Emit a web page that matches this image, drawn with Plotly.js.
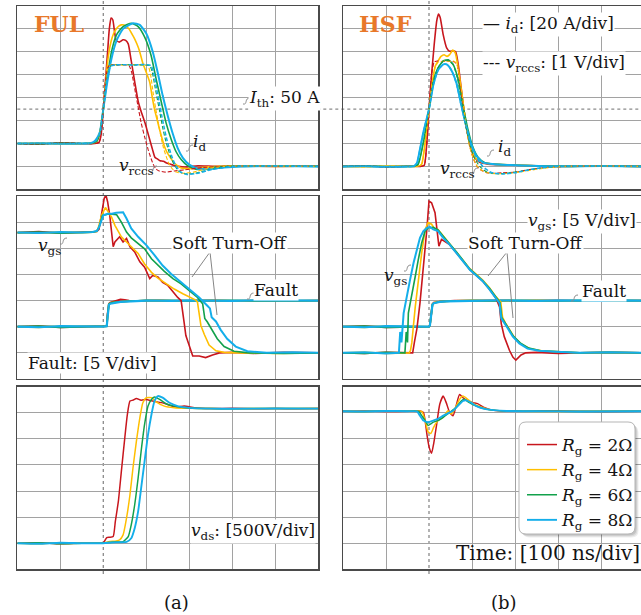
<!DOCTYPE html>
<html>
<head>
<meta charset="utf-8">
<script src="https://cdn.plot.ly/plotly-3.0.1.min.js"></script>
<style>
html, body { margin: 0; padding: 0; background: #fff; }
#chart { width: 641px; height: 615px; }
</style>
</head>
<body>
<div id="chart"></div>
<script>
// ---- gate resistances and trace colours ----
const rgLabels = ['<i>R</i><sub>g</sub> = 2Ω', '<i>R</i><sub>g</sub> = 4Ω', '<i>R</i><sub>g</sub> = 6Ω', '<i>R</i><sub>g</sub> = 8Ω'];
const rgColors = ['#C8161D', '#FFBF00', '#12A14B', '#14AEEA'];
const I_TH = 50; // A, short-circuit detection threshold

// ---- FUL: drain current id [A] (time in ns) ----
const fulIdT2 = [-200,-150,-100,-50,-20,-10,-5,0,5,10,14,18,22,26,30,37,46,52,58,65,73,81,88,97,103,109,115,120,126,132,140,147,155,163,175,190,220,260,320,400,500];
const fulId2  = [20,19.5,20.5,19.8,20,21,28,50,75,100,120,129.5,128,118,110,108.5,110.5,110,107,92,74,57,48,38,30,22,14,8,6.5,5,4.5,3,2,1,0,-0.5,0.5,0,0.5,0,0.3];
const fulIdT4 = [-200,-150,-100,-50,-25,-15,-8,0,6,12,18,24,30,36,42,48,54,60,66,72,78,84,92,100,108,114,119,125,131,137,142,148,154,160,165,173,181,195,215,240,270,330,400,500];
const fulId4  = [20,20.3,19.7,20,20.4,22,30,50,76,97,109,116,120,122.5,123.5,123.5,122,120,116,112,107,101,90,82,73.5,60,50,41,32,24,17.6,12.5,8.8,5.5,2.9,0.5,-1.5,-2,-1.5,-0.5,0,0.4,0,0.3];
const fulIdT6 = [-200,-150,-100,-50,-25,-15,-8,0,8,19,31,46,65,81,96,111,123,135,146,158,169,181,196,215,238,262,300,400,500];
const fulId6  = [20,19.8,20.2,20,20.3,22,29,50,73.5,100,115,122,125,122,113,97,76,56,38,23.5,13,6,0.6,-2.4,-2.4,-0.6,0,0.3,0];
const fulIdT8 = [-200,-150,-100,-50,-28,-18,-8,0,8,19,31,46,69,85,100,115,127,138,150,162,173,185,200,220,250,280,320,400,500];
const fulId8  = [20,20.2,19.8,20,20.4,23,30,50,70.6,94,110,120,125,123.5,116,100,81,62,44,28,16,7.4,1.5,-2,-2.3,-1,0,0.3,0];

// ---- FUL: sense voltage vrccs [V] ----
const fulVrT2 = [-200,-150,-100,-50,-20,-10,-5,0,5,10,15,20,30,40,50,60,66,72,80,88,96,104,110,116,122,130,145,165,190,230,280,350,420,500];
const fulVr2  = [1,0.97,1.03,1,1,1.05,1.4,2.5,3.7,4.3,4.43,4.45,4.42,4.44,4.43,4.4,4.1,3.5,2.7,1.9,1.3,0.75,0.4,0.1,-0.1,-0.2,-0.25,-0.2,-0.15,-0.05,0,0.02,0,0];
const fulVrT4 = [-200,-150,-100,-50,-25,-15,-8,0,6,12,18,30,50,70,90,104,110,116,122,128,134,140,146,152,160,170,185,210,240,280,350,500];
const fulVr4  = [1,1.02,0.98,1,1.02,1.1,1.5,2.5,3.7,4.3,4.43,4.44,4.42,4.45,4.43,4.4,4.0,3.2,2.5,1.9,1.3,0.8,0.45,0.15,-0.1,-0.25,-0.3,-0.25,-0.1,0,0.02,0];
const fulVrT6 = [-200,-150,-100,-50,-25,-15,-8,0,6,12,18,30,50,70,90,108,114,120,126,132,138,144,150,156,164,175,190,215,245,290,350,500];
const fulVr6  = [1,0.98,1.02,1,1.02,1.1,1.45,2.5,3.6,4.2,4.4,4.43,4.45,4.42,4.43,4.4,4.1,3.5,2.9,2.3,1.7,1.2,0.8,0.45,0.1,-0.2,-0.32,-0.3,-0.15,0,0.02,0];
const fulVrT8 = [-200,-150,-100,-50,-28,-18,-8,0,6,12,18,30,50,70,90,111,118,124,130,136,142,148,154,160,168,180,195,220,250,300,360,500];
const fulVr8  = [1,1.02,0.98,1,1.02,1.1,1.45,2.5,3.5,4.15,4.38,4.43,4.44,4.42,4.45,4.4,4.0,3.4,2.8,2.2,1.65,1.15,0.75,0.4,0.05,-0.25,-0.35,-0.3,-0.15,0,0.02,0];

// ---- HSF: drain current id [A] ----
const hsfIdT2 = [-200,-150,-100,-50,-20,-11,-5,0,6,12,18,22,26,33,41,48,56,62,68,75,83,91,98,106,118,137,160,200,250,300,400,493];
const hsfId2  = [0,0.4,-0.3,0.2,0,1,21,50,80,106,127,133,130,115,103.5,100.5,101,100,89,68,44.7,27,15,8,3.5,2,1.5,1,0.5,0,0.3,0];
const hsfIdT4 = [-200,-150,-100,-50,-25,-17,-9,0,8,14,21,28,35,42,48,55,61,67,75,83,91,98,110,129,160,200,250,300,400,493];
const hsfId4  = [0,-0.3,0.3,0,0.2,2,21,50,74,87,92,96,97.5,96,97.5,101.5,99,88,67,44.7,27,15,6.5,3,1.8,1.2,0.5,0,0.3,0];
const hsfIdT6 = [-200,-150,-100,-50,-32,-25,-13,0,10,21,33,45,56,68,79,91,102,114,129,150,180,220,270,330,400,493];
const hsfId6  = [0,0.3,-0.2,0,0.1,2,21,50,74,86,92,93,89,75.6,53.5,31.5,16.8,8,3.5,2,1.3,0.8,0.3,0,0.3,0];
const hsfIdT8 = [-200,-150,-100,-50,-35,-28,-21,-13,0,10,21,33,41,52,64,75,87,98,110,125,152,190,240,300,400,493];
const hsfId8  = [0,0.2,-0.3,0,0.2,3,15,30,50,71,84,89,89,84,72.6,53.5,34.4,19.7,9.4,3.5,1.8,1.2,0.5,0,0.3,0];

// ---- HSF: sense voltage vrccs [V] ----
const hsfVrT2 = [-200,-150,-100,-50,-20,-11,-5,0,6,12,20,30,40,50,60,66,72,80,88,96,104,112,120,135,150,170,200,230,270,320,400,493];
const hsfVr2  = [0,0.02,-0.02,0,0,0.05,1,2.5,4.0,4.55,4.6,4.58,4.6,4.59,4.55,4.4,3.6,2.5,1.5,0.8,0.3,0,-0.15,-0.28,-0.3,-0.28,-0.25,-0.15,-0.05,0,0.02,0];
const hsfVrT4 = [-200,-150,-100,-50,-25,-17,-9,0,8,14,21,30,40,50,57,64,70,78,86,94,102,112,125,140,160,190,220,260,310,400,493];
const hsfVr4  = [0,-0.02,0.02,0,0.01,0.1,1.05,2.5,3.7,4.3,4.55,4.58,4.6,4.58,4.6,4.5,4.0,3.0,1.8,0.9,0.4,0,-0.2,-0.3,-0.32,-0.3,-0.22,-0.1,0,0.02,0];
const hsfVrT6 = [-200,-150,-100,-50,-32,-25,-13,0,10,21,33,45,56,66,76,86,96,106,118,135,155,180,210,250,300,400,493];
const hsfVr6  = [0,0.02,-0.01,0,0.01,0.1,1.05,2.5,3.7,4.3,4.6,4.62,4.45,3.85,2.8,1.7,0.9,0.35,0,-0.25,-0.32,-0.3,-0.22,-0.1,0,0.02,0];
const hsfVrT8 = [-200,-150,-100,-50,-35,-28,-21,-13,0,10,21,33,41,52,64,75,87,98,110,125,145,170,200,240,290,400,493];
const hsfVr8  = [0,0.01,-0.02,0,0.01,0.15,0.75,1.5,2.5,3.55,4.2,4.45,4.45,4.2,3.6,2.65,1.7,0.9,0.4,0,-0.27,-0.33,-0.28,-0.12,0,0.02,0];

// ---- FUL: gate-source voltage vgs [V] ----
const fulVgsT2 = [-200,-150,-100,-50,-25,-15,-10,-4,2,6,10,15,19,23,27,31,38,46,54,62,73,85,96,108,115,127,138,150,162,173,181,185,188,192,200,208,223,238,254,270,300,350,420,500];
const fulVgs2  = [18,18.2,17.9,18,18.1,18.2,18.6,21.3,24.5,25.2,23.9,21.3,17.5,15.3,16.2,16.5,17.2,16.2,16.9,15.3,14.3,12.4,11.4,9.2,9.8,9.5,8.5,7.9,6.6,5.6,5.0,3,0.8,-1.7,-3.7,-5.6,-5.6,-5.9,-5.4,-5,-4.9,-5.1,-4.9,-5];
const fulVgsT4 = [-200,-150,-100,-50,-25,-15,-12,-4,5,12,19,27,35,42,54,65,81,96,112,127,146,165,185,204,215,219,223,227,235,246,262,281,320,400,500];
const fulVgs4  = [18,17.9,18.1,18,18.1,18.2,18.8,21.3,22.8,22,21,19.4,18.1,17.2,16.2,15.3,14,12,10.4,9.3,8.2,7.2,6.3,5.6,5.1,4.7,2.1,0.2,-1.5,-3.5,-4.6,-4.9,-5,-5.1,-5];
const fulVgsT6 = [-200,-150,-100,-50,-25,-15,-10,-2,10,20,31,42,54,65,81,96,112,127,142,162,181,200,219,231,236,242,254,265,281,304,340,420,500];
const fulVgs6  = [18,18.1,17.9,18,18.1,18.3,19,21.3,21.5,21.5,21.4,20,18.1,17,15.9,14.9,13,11.7,10.6,9.2,8.2,6.9,5.6,4.4,1.6,0.9,-0.7,-2.3,-3.8,-4.7,-5,-5.1,-5];
const fulVgsT8 = [-200,-150,-100,-50,-25,-15,-10,0,10,20,30,40,46,54,65,81,100,119,138,158,181,200,223,242,248,252,262,273,288,308,335,380,440,500];
const fulVgs8  = [18,17.9,18.1,18,18.1,18.3,19,21.3,21.6,21.6,21.8,21.8,21.9,20.7,18.8,17.2,15.6,13.7,11.7,10.1,8.5,7.2,5.6,4.0,3.5,1.8,1.0,-0.6,-2.3,-3.8,-4.7,-5,-4.9,-5];

// ---- FUL: fault flag [V] ----
const fulFaultT = [-200,-150,-100,-50,0,8,10,13,16,20,30,40,50,60,80,100,130,160,200,250,300,350,400,450,500];
const fulFault2 = [0,0.1,-0.1,0,0,0.1,2.5,4.4,4.6,4.7,4.9,5.2,5.15,5.0,4.95,5.0,5.05,4.95,5.0,5.05,4.95,5.0,5.05,4.95,5.0];
const fulFault4 = [0,-0.1,0.1,0,0,0.1,2.4,4.3,4.5,4.6,4.7,4.8,4.85,4.9,4.95,5.0,5.05,4.95,5.0,5.05,4.95,5.0,5.05,4.95,5.0];
const fulFault6 = [0,0.1,-0.1,0,0,0.1,2.3,4.3,4.5,4.6,4.7,4.8,4.85,4.9,4.95,5.05,5.0,5.05,4.95,5.0,5.05,4.95,5.0,5.05,5.0];
const fulFault8 = [0,-0.1,0.1,0,0,0.1,2.3,4.2,4.4,4.5,4.6,4.75,4.8,4.9,4.95,5.0,5.0,4.95,5.05,5.0,4.95,5.05,5.0,4.95,5.0];

// ---- HSF: gate-source voltage vgs [V] ----
const hsfVgsT2 = [-200,-150,-100,-50,-38,-34,-28,-21,-13,-5,0,6,14,19,23,29,37,48,64,79,95,110,125,141,156,164,168,175,187,195,202,214,225,250,300,350,420,493];
const hsfVgs2  = [-5,-5.1,-4.9,-5,-5,-3,-0.3,4.5,10.9,18.6,24,23.7,21.8,18.6,15.4,16.7,16.3,15.7,14.1,12.5,10.9,9.8,8.7,7.1,5.4,3.8,0.6,-1.9,-4.5,-5.8,-6.4,-5.4,-5,-4.9,-5.1,-5,-4.9,-5];
const hsfVgsT4 = [-200,-150,-100,-50,-46,-43,-40,-32,-25,-17,-9,-2,6,14,21,33,48,64,79,95,110,125,141,156,167,171,178,186,198,214,235,262,300,350,420,493];
const hsfVgs4  = [-5,-4.9,-5.1,-5,-5,-4.5,-3.1,3.8,9,14.1,18.6,19.9,19.6,18.6,18.6,17.4,16,14.4,12.8,11.1,10,8.9,7.4,5.7,4.7,1.8,0.7,-0.4,-2,-3.3,-4.2,-4.6,-4.8,-5,-4.9,-5];
const hsfVgsT6 = [-200,-150,-100,-60,-56,-53,-50,-48,-40,-32,-25,-17,-9,-2,10,21,33,48,64,79,95,110,125,141,156,165,169,176,184,196,212,232,260,300,350,420,493];
const hsfVgs6  = [-5,-5.1,-4.9,-5,-5,-1,-3,2.6,5.8,9.6,12.8,16,18.3,18.9,19,18.5,17.3,15.9,14.3,12.7,11,9.9,8.8,7.3,5.6,4.6,1.8,0.8,-0.2,-1.8,-3.1,-4.1,-4.6,-4.8,-5,-4.9,-5];
const hsfVgsT8 = [-200,-150,-100,-80,-70,-67,-64,-59,-52,-44,-36,-28,-21,-13,-5,2,10,21,33,48,64,79,95,110,125,141,156,164,168,175,183,195,210,229,256,295,350,420,493];
const hsfVgs8  = [-5,-4.9,-5.1,-5,-5,-1,-3,2.6,5.8,9,12.2,14.7,17,18.3,18.9,19.1,18.6,18.3,17,15.7,14.1,12.5,10.9,9.8,8.7,7.1,5.4,4.5,1.6,0.6,-0.3,-1.9,-3.2,-4.2,-4.6,-4.8,-5,-4.9,-5];

// ---- HSF: fault flag [V] ----
const hsfFaultT = [-200,-150,-100,-50,0,2,5,8,11,15,25,40,60,100,150,200,250,300,350,400,450,493];
const hsfFault2 = [0,0.1,-0.1,0,0,0.2,2.5,4.3,4.6,4.7,4.8,4.9,5.0,5.0,5.05,4.95,5.0,5.05,4.95,5.0,5.05,5.0];
const hsfFault4 = [0,-0.1,0.1,0,0,0.2,2.4,4.3,4.5,4.7,4.8,4.9,4.95,5.05,5.0,4.95,5.05,5.0,4.95,5.05,5.0,5.0];
const hsfFault6 = [0,0.1,-0.1,0,0,0.2,2.4,4.2,4.5,4.6,4.8,4.85,4.95,5.0,4.95,5.05,5.0,4.95,5.05,5.0,4.95,5.0];
const hsfFault8 = [0,-0.1,0.1,0,0,0.2,2.3,4.2,4.5,4.6,4.75,4.85,4.9,5.0,5.05,5.0,4.95,5.05,5.0,4.95,5.05,5.0];

// ---- FUL: drain-source voltage vds [V] ----
const fulVdsT2 = [-200,-150,-100,-50,0,8,15,23,28,35,42,50,56,62,69,77,88,100,112,123,138,154,169,188,212,250,300,350,400,450,500];
const fulVds2  = [0,10,-10,0,10,109,115,128,417,801,1378,2019,2468,2724,2743,2776,2740,2755,2730,2711,2690,2647,2609,2630,2596,2580,2585,2575,2580,2578,2580];
const fulVdsT4 = [-200,-150,-100,-50,0,12,30,38,46,54,62,69,77,85,92,100,112,123,142,165,200,250,300,400,500];
const fulVds4  = [0,-10,10,0,0,30,45,64,160,481,929,1442,1955,2404,2692,2788,2790,2711,2628,2596,2585,2580,2578,2582,2580];
const fulVdsT6 = [-200,-150,-100,-50,0,20,46,58,65,73,81,88,96,104,112,119,131,146,165,200,250,300,400,500];
const fulVds6  = [0,10,-10,0,0,20,30,128,353,737,1250,1763,2276,2628,2756,2801,2756,2673,2628,2590,2580,2578,2582,2580];
const fulVdsT8 = [-200,-150,-100,-50,0,20,54,65,73,81,88,96,104,112,119,127,138,154,173,200,250,300,400,500];
const fulVds8  = [0,-10,10,0,0,15,25,96,288,609,1058,1570,2083,2468,2724,2820,2790,2692,2628,2595,2580,2578,2582,2580];

// ---- HSF: drain-source voltage vds [V] ----
const hsfVdsT2 = [-200,-150,-100,-50,-21,-13,-9,-4,1,6,11,18,25,33,40,48,56,63,71,79,88,102,113,128,147,170,220,300,400,493];
const hsfVds2  = [2530,2535,2525,2530,2535,2508,2351,2039,1820,1726,1914,2289,2664,2820,2695,2508,2445,2633,2851,2789,2739,2695,2676,2601,2551,2536,2530,2535,2525,2530];
const hsfVdsT4 = [-200,-150,-100,-50,-17,-9,-2,4,11,21,33,44,52,60,71,79,90,105,124,147,200,300,400,493];
const hsfVds4  = [2530,2525,2535,2530,2527,2351,2133,2101,2226,2351,2414,2539,2476,2570,2758,2820,2758,2664,2601,2551,2530,2525,2535,2530];
const hsfVdsT6 = [-200,-150,-100,-50,-24,-17,-9,-2,10,21,33,48,63,75,82,94,109,132,180,250,350,493];
const hsfVds6  = [2530,2525,2535,2530,2527,2445,2351,2258,2320,2351,2414,2508,2601,2726,2758,2695,2633,2570,2535,2530,2525,2530];
const hsfVdsT8 = [-200,-150,-100,-50,-28,-21,-13,-2,10,21,33,44,56,67,79,86,98,109,132,180,250,350,493];
const hsfVds8  = [2530,2525,2535,2530,2527,2445,2351,2320,2351,2383,2445,2489,2539,2633,2726,2739,2695,2633,2570,2535,2530,2525,2530];

// ---- figure geometry (pixels) ----
const W = 641, H = 615;
const px = x => x / W;
const py = y => 1 - y / H;
const SERIF = "'DejaVu Serif', 'Liberation Serif', serif";

const traces = [];
function addGroup(xa, ya, pairs, style) {
  pairs.forEach(([t, v], i) => {
    traces.push({
      type: 'scatter', mode: 'lines', x: t, y: v, xaxis: xa, yaxis: ya,
      name: rgLabels[i], showlegend: !!style.legend, hoverinfo: 'skip',
      line: {
        color: rgColors[i],
        width: i === 3 ? style.width + 0.4 : style.width,
        dash: style.dash || 'solid',
        shape: style.shape || 'linear',
        smoothing: 0.5
      }
    });
  });
}

// top row: currents and sense voltages
addGroup('x', 'y7', [[fulVrT2, fulVr2], [fulVrT4, fulVr4], [fulVrT6, fulVr6], [fulVrT8, fulVr8]], {width: 1.1, dash: '4px,2px', shape: 'spline'});
addGroup('x', 'y', [[fulIdT2, fulId2], [fulIdT4, fulId4], [fulIdT6, fulId6], [fulIdT8, fulId8]], {width: 1.6, shape: 'spline'});
addGroup('x2', 'y8', [[hsfVrT2, hsfVr2], [hsfVrT4, hsfVr4], [hsfVrT6, hsfVr6], [hsfVrT8, hsfVr8]], {width: 1.1, dash: '4px,2px', shape: 'spline'});
addGroup('x2', 'y2', [[hsfIdT2, hsfId2], [hsfIdT4, hsfId4], [hsfIdT6, hsfId6], [hsfIdT8, hsfId8]], {width: 1.6, shape: 'spline'});
// middle row: gate voltage and fault flag
addGroup('x3', 'y3', [[fulFaultT, fulFault2], [fulFaultT, fulFault4], [fulFaultT, fulFault6], [fulFaultT, fulFault8]], {width: 1.8});
addGroup('x3', 'y3', [[fulVgsT2, fulVgs2], [fulVgsT4, fulVgs4], [fulVgsT6, fulVgs6], [fulVgsT8, fulVgs8]], {width: 1.6});
addGroup('x4', 'y4', [[hsfFaultT, hsfFault2], [hsfFaultT, hsfFault4], [hsfFaultT, hsfFault6], [hsfFaultT, hsfFault8]], {width: 1.8});
addGroup('x4', 'y4', [[hsfVgsT2, hsfVgs2], [hsfVgsT4, hsfVgs4], [hsfVgsT6, hsfVgs6], [hsfVgsT8, hsfVgs8]], {width: 1.6});
// bottom row: drain-source voltage
addGroup('x5', 'y5', [[fulVdsT2, fulVds2], [fulVdsT4, fulVds4], [fulVdsT6, fulVds6], [fulVdsT8, fulVds8]], {width: 1.5, shape: 'spline'});
addGroup('x6', 'y6', [[hsfVdsT2, hsfVds2], [hsfVdsT4, hsfVds4], [hsfVdsT6, hsfVds6], [hsfVdsT8, hsfVds8]], {width: 1.5, shape: 'spline', legend: true});

// ---- axes ----
const X_LEFT = [px(17.3), px(318.3)];
const X_RIGHT = [px(343), 1];
const Y_TOP = [py(189.3), py(6)];
const Y_MID = [py(379), py(196)];
const Y_BOT = [py(569.3), py(386.7)];
const T_TICKS = [-100, 100, 200, 300, 400];

const axBase = {
  showline: true, linecolor: '#4a4a4a', linewidth: 1.4, mirror: true,
  showgrid: true, gridcolor: '#a2a2a2', gridwidth: 1,
  zeroline: false, showticklabels: false, ticks: '', tickmode: 'array', fixedrange: true
};
const xL = (anchor) => Object.assign({}, axBase, {domain: X_LEFT, range: [-200, 500], tickvals: T_TICKS, anchor});
const xR = (anchor) => Object.assign({}, axBase, {domain: X_RIGHT, range: [-200, 493], tickvals: T_TICKS, anchor});
const yAx = (domain, range, vals, anchor, mirror) => Object.assign({}, axBase, {domain, range, tickvals: vals, anchor, mirror});

const idTicks = [0, 20, 40, 60, 80, 100, 120];
const vgsTicks = [-5, 0, 5, 10, 15, 20];
const vdsTicks = [0, 500, 1000, 1500, 2000, 2500];

// ---- baseline markers, time-zero and threshold lines ----
const shapes = [];
[['x', 'y', 0], ['x2', 'y2', 0], ['x3', 'y3', 0], ['x4', 'y4', 0], ['x5', 'y5', 0], ['x6', 'y6', 0]].forEach(([xa, ya, base]) => {
  shapes.push({
    type: 'path', xref: xa, yref: ya, xsizemode: 'pixel', ysizemode: 'pixel',
    xanchor: -200, yanchor: base, path: 'M-11.5,-4.3 L-11.5,4.3 L-4.2,0 Z',
    fillcolor: '#1DB41D', line: {width: 0}, layer: 'above'
  });
});
['x', 'x2'].forEach(xa => {
  shapes.push({type: 'line', xref: xa, yref: 'paper', x0: 0, x1: 0, y0: py(574), y1: 1,
    line: {color: '#8a8a8a', width: 1.3, dash: 'dot'}, layer: 'below'});
});
shapes.push({type: 'line', xref: 'paper', yref: 'y', x0: px(17.3), x1: 1, y0: I_TH, y1: I_TH,
  line: {color: '#8a8a8a', width: 1.3, dash: 'dot'}, layer: 'below'});

// rounded legend frame with soft shadow
function roundRect(x0, y0, x1, y1, r) {
  const P = (x, y) => px(x) + ',' + py(y);
  return 'M' + P(x0 + r, y0) + ' L' + P(x1 - r, y0) + ' Q' + P(x1, y0) + ' ' + P(x1, y0 + r) +
    ' L' + P(x1, y1 - r) + ' Q' + P(x1, y1) + ' ' + P(x1 - r, y1) +
    ' L' + P(x0 + r, y1) + ' Q' + P(x0, y1) + ' ' + P(x0, y1 - r) +
    ' L' + P(x0, y0 + r) + ' Q' + P(x0, y0) + ' ' + P(x0 + r, y0) + ' Z';
}
[[3.5, 0.07], [2.5, 0.08], [1.5, 0.1]].forEach(([d, a]) => {
  shapes.push({type: 'path', xref: 'paper', yref: 'paper', path: roundRect(519 + d, 422 + d, 635 + d, 534 + d, 7),
    fillcolor: 'rgba(0,0,0,' + a + ')', line: {width: 0}, layer: 'above'});
});
shapes.push({type: 'path', xref: 'paper', yref: 'paper', path: roundRect(519, 422, 635, 534, 7),
  fillcolor: '#ffffff', line: {color: '#b5b5b5', width: 1}, layer: 'above'});

// little wavy pins next to the curve labels
function squiggle(x, y) {
  const P = (a, b) => px(a) + ',' + py(b);
  return {type: 'path', xref: 'paper', yref: 'paper', layer: 'above',
    path: 'M' + P(x, y + 3) + ' C' + P(x + 5, y + 4) + ' ' + P(x + 1, y - 3) + ' ' + P(x + 7, y - 3),
    line: {color: '#8c8c8c', width: 1}};
}
[[243, 101], [186, 148], [150, 169], [487, 153], [471, 171], [60, 241], [404, 268], [247, 296], [571, 298]]
  .forEach(([x, y]) => shapes.push(squiggle(x, y)));

// leader lines from the "Soft Turn-Off" notes down to the gate-voltage slopes
function leader(x0, y0, x1, y1) {
  return {type: 'line', xref: 'paper', yref: 'paper', x0: px(x0), y0: py(y0), x1: px(x1), y1: py(y1),
    line: {color: '#777777', width: 0.9}, layer: 'above'};
}
shapes.push(leader(210, 252, 192, 277), leader(210, 252, 217, 315),
            leader(507, 252, 488, 276), leader(507, 252, 513, 318));

// ---- text ----
const baseFont = {family: SERIF, size: 17, color: '#141414'};
function label(text, x, y, opts) {
  opts = opts || {};
  return Object.assign({
    text, xref: 'paper', yref: 'paper', x: px(x), y: py(y), showarrow: false,
    xanchor: 'center', yanchor: 'middle', font: baseFont, borderpad: 0
  }, opts);
}
const white = {bgcolor: '#ffffff'};
const tagFont = {family: SERIF, size: 22, color: '#E8782A'};

const annotations = [
  label('<b>FUL</b>', 59, 24, {font: tagFont}),
  label('<b>HSF</b>', 385, 24, {font: tagFont}),
  label('— <i>i</i><sub>d</sub>: [20 A/div]', 482, 24, Object.assign({xanchor: 'left'}, white)),
  label('--- <i>v</i><sub>rccs</sub>: [1 V/div]', 482, 64, Object.assign({xanchor: 'left'}, white)),
  label('<i>I</i><sub>th</sub>: 50 A', 284, 98, white),
  label('<i>i</i><sub>d</sub>', 199, 142),
  label('<i>v</i><sub>rccs</sub>', 136, 166),
  label('<i>i</i><sub>d</sub>', 504, 147),
  label('<i>v</i><sub>rccs</sub>', 457, 170),
  label('<i>v</i><sub>gs</sub>', 49, 246),
  label('<i>v</i><sub>gs</sub>', 395, 276),
  label('Soft Turn-Off', 229, 243, white),
  label('Soft Turn-Off', 525, 243, white),
  label('Fault', 276, 290, white),
  label('Fault', 604, 291, white),
  label('Fault: [5 V/div]', 27, 363, Object.assign({xanchor: 'left'}, white)),
  label('<i>v</i><sub>gs</sub>: [5 V/div]', 527, 221, Object.assign({xanchor: 'left'}, white)),
  label('<i>v</i><sub>ds</sub>: [500V/div]', 316, 531, Object.assign({xanchor: 'right'}, white)),
  label('Time: [100 ns/div]', 641, 553, {xanchor: 'right', font: {family: SERIF, size: 20, color: '#141414'}}),
  label('(a)', 176, 602, {font: {family: SERIF, size: 18, color: '#141414'}}),
  label('(b)', 504, 602, {font: {family: SERIF, size: 18, color: '#141414'}})
];

const layout = {
  width: W, height: H, autosize: false,
  margin: {l: 0, r: 0, t: 0, b: 0, pad: 0},
  paper_bgcolor: '#ffffff', plot_bgcolor: 'rgba(0,0,0,0)',
  font: {family: SERIF, color: '#141414'},
  showlegend: true,
  legend: {
    x: px(522), y: py(427), xanchor: 'left', yanchor: 'top',
    bgcolor: 'rgba(0,0,0,0)', borderwidth: 0, tracegroupgap: 0, itemwidth: 30,
    font: {family: SERIF, size: 17, color: '#141414'}
  },
  xaxis: xL('y'), xaxis2: xR('y2'), xaxis3: xL('y3'), xaxis4: xR('y4'), xaxis5: xL('y5'), xaxis6: xR('y6'),
  yaxis: yAx(Y_TOP, [-20, 140], idTicks, 'x', true),
  yaxis2: yAx(Y_TOP, [-20, 140], idTicks, 'x2', false),
  yaxis3: yAx(Y_MID, [-10, 25], vgsTicks, 'x3', true),
  yaxis4: yAx(Y_MID, [-10, 25], vgsTicks, 'x4', false),
  yaxis5: yAx(Y_BOT, [-500, 3000], vdsTicks, 'x5', true),
  yaxis6: yAx(Y_BOT, [-500, 3000], vdsTicks, 'x6', false),
  yaxis7: {overlaying: 'y', anchor: 'x', range: [-1, 7], visible: false, fixedrange: true},
  yaxis8: {overlaying: 'y2', anchor: 'x2', range: [-1, 7], visible: false, fixedrange: true},
  shapes, annotations
};

Plotly.newPlot('chart', traces, layout, {staticPlot: true, displayModeBar: false});
</script>
</body>
</html>
